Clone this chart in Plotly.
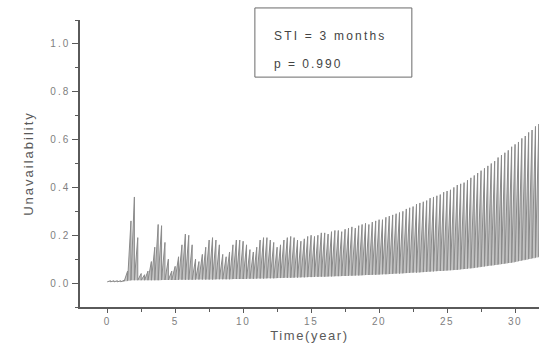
import numpy as np
import plotly.graph_objects as go

# Surveillance test interval (STI) = 3 months -> one sawtooth per quarter year
test_interval_years = 0.25

# Peak unavailability reached at the end of each test interval (tooth k ends at (k+1)*0.25 yr)
tooth_peaks = [
    0.010, 0.010, 0.010, 0.010, 0.012, 0.050, 0.260, 0.360,
    0.190, 0.040, 0.035, 0.050, 0.090, 0.150, 0.245, 0.240,
    0.170, 0.100, 0.050, 0.070, 0.110, 0.160, 0.205, 0.200,
    0.160, 0.100, 0.090, 0.120, 0.150, 0.180, 0.190, 0.180,
    0.160, 0.120, 0.110, 0.130, 0.160, 0.180, 0.180, 0.175,
    0.160, 0.140, 0.130, 0.150, 0.180, 0.190, 0.190, 0.180,
    0.170, 0.150, 0.160, 0.180, 0.190, 0.195, 0.190, 0.180,
    0.175, 0.185, 0.195, 0.200, 0.195, 0.200, 0.210, 0.210,
    0.205, 0.215, 0.220, 0.220, 0.215, 0.225, 0.230, 0.235,
    0.230, 0.240, 0.245, 0.250, 0.245, 0.255, 0.260, 0.265,
    0.265, 0.275, 0.280, 0.285, 0.290, 0.295, 0.300, 0.310,
    0.315, 0.320, 0.330, 0.335, 0.340, 0.345, 0.355, 0.360,
    0.365, 0.370, 0.380, 0.385, 0.390, 0.400, 0.410, 0.415,
    0.420, 0.430, 0.440, 0.450, 0.460, 0.470, 0.480, 0.490,
    0.500, 0.510, 0.525, 0.535, 0.545, 0.555, 0.570, 0.580,
    0.590, 0.605, 0.615, 0.630, 0.640, 0.655, 0.665, 0.680,
]

# Unavailability right after each test (start of tooth k at k*0.25 yr)
tooth_troughs = [
    0.005, 0.005, 0.005, 0.005, 0.005, 0.008, 0.010, 0.012,
    0.012, 0.012, 0.012, 0.012, 0.012, 0.012, 0.012, 0.012,
    0.013, 0.013, 0.013, 0.013, 0.013, 0.014, 0.014, 0.014,
    0.014, 0.014, 0.015, 0.015, 0.015, 0.015, 0.015, 0.015,
    0.016, 0.016, 0.016, 0.016, 0.016, 0.017, 0.017, 0.017,
    0.017, 0.018, 0.018, 0.018, 0.019, 0.019, 0.019, 0.020,
    0.020, 0.020, 0.021, 0.021, 0.022, 0.022, 0.022, 0.023,
    0.023, 0.024, 0.024, 0.025, 0.025, 0.026, 0.026, 0.027,
    0.027, 0.028, 0.028, 0.029, 0.029, 0.030, 0.030, 0.031,
    0.031, 0.032, 0.032, 0.033, 0.034, 0.034, 0.035, 0.035,
    0.036, 0.037, 0.037, 0.038, 0.039, 0.040, 0.040, 0.041,
    0.042, 0.043, 0.044, 0.044, 0.045, 0.046, 0.047, 0.048,
    0.049, 0.050, 0.051, 0.052, 0.053, 0.054, 0.055, 0.056,
    0.058, 0.059, 0.061, 0.062, 0.064, 0.066, 0.068, 0.070,
    0.072, 0.074, 0.076, 0.078, 0.080, 0.082, 0.084, 0.086,
    0.089, 0.092, 0.095, 0.098, 0.101, 0.104, 0.107, 0.110,
]

x_tick_values = [0, 5, 10, 15, 20, 25, 30]
x_tick_labels = ["0", "5", "10", "15", "20", "25", "30"]
y_tick_values = [0.0, 0.2, 0.4, 0.6, 0.8, 1.0]
y_tick_labels = ["0.0", "0.2", "0.4", "0.6", "0.8", "1.0"]


def spaced(text, px):
    return f'<span style="letter-spacing:{px}px">{text}</span>'


# Sawtooth teeth: rise during the interval, vertical drop at each test
fx, fy = [], []
lx, ly = [], []
for k, (lo, hi) in enumerate(zip(tooth_troughs, tooth_peaks)):
    t0 = k * test_interval_years
    t1 = (k + 1) * test_interval_years
    fx += [t0, t1, t1, t0, None]
    fy += [lo, hi, lo, lo, None]
    lx += [t0, t1]
    ly += [lo, hi]

fig = go.Figure()
fig.add_trace(go.Scatter(
    x=fx, y=fy, mode="lines", fill="toself",
    fillcolor="#c2c2c2", line=dict(color="rgba(0,0,0,0)", width=0),
    hoverinfo="skip", showlegend=False,
))
fig.add_trace(go.Scatter(
    x=lx, y=ly, mode="lines",
    line=dict(color="#8a8a8a", width=1),
    hoverinfo="skip", showlegend=False,
))

axis_color = "#5a5a5a"
family = "Liberation Sans, Arial, sans-serif"

fig.update_layout(
    width=539, height=352,
    margin=dict(l=80, r=0, t=20, b=45),
    paper_bgcolor="white", plot_bgcolor="white",
    showlegend=False,
    font=dict(family=family, color="#555555"),
    xaxis=dict(
        range=[-2, 31.76], tickvals=x_tick_values,
        ticktext=[spaced(t, 1.5) for t in x_tick_labels],
        showgrid=False, zeroline=False,
        showline=True, linecolor=axis_color, linewidth=1.5,
        ticks="outside", ticklen=4, tickwidth=1, tickcolor=axis_color,
        minor=dict(ticks="outside", ticklen=3, dtick=2.5, tick0=0, tickcolor=axis_color),
        tickfont=dict(family=family, size=10, color="#808080"),
        title=dict(text=spaced("Time(year)", 1.6), font=dict(size=13, color="#5a5a5a"), standoff=5),
    ),
    yaxis=dict(
        range=[-0.1, 1.1], tickvals=y_tick_values,
        ticktext=[spaced(t, 2) for t in y_tick_labels],
        showgrid=False, zeroline=False,
        showline=True, linecolor=axis_color, linewidth=1.5,
        ticks="outside", ticklen=6, tickwidth=1, tickcolor=axis_color,
        minor=dict(ticks="outside", ticklen=3, dtick=0.1, tick0=0, tickcolor=axis_color),
        tickfont=dict(family=family, size=10, color="#808080"),
        title=dict(text=spaced("Unavailability", 2.0), font=dict(size=13, color="#5a5a5a"), standoff=14),
    ),
)

# Info box
fig.add_shape(type="rect", xref="paper", yref="paper",
              x0=0.381, x1=0.723, y0=0.801, y1=1.042,
              line=dict(color="#6a6a6a", width=1), fillcolor="white")
fig.add_annotation(xref="paper", yref="paper", x=0.418, y=0.975,
                   text=spaced("STI = 3 months", 2.2), showarrow=False, xanchor="left",
                   font=dict(size=12, color="#444444"))
fig.add_annotation(xref="paper", yref="paper", x=0.418, y=0.878,
                   text=spaced("p = 0.990", 2.0), showarrow=False, xanchor="left",
                   font=dict(size=12, color="#444444"))

fig.write_html("out.html")
